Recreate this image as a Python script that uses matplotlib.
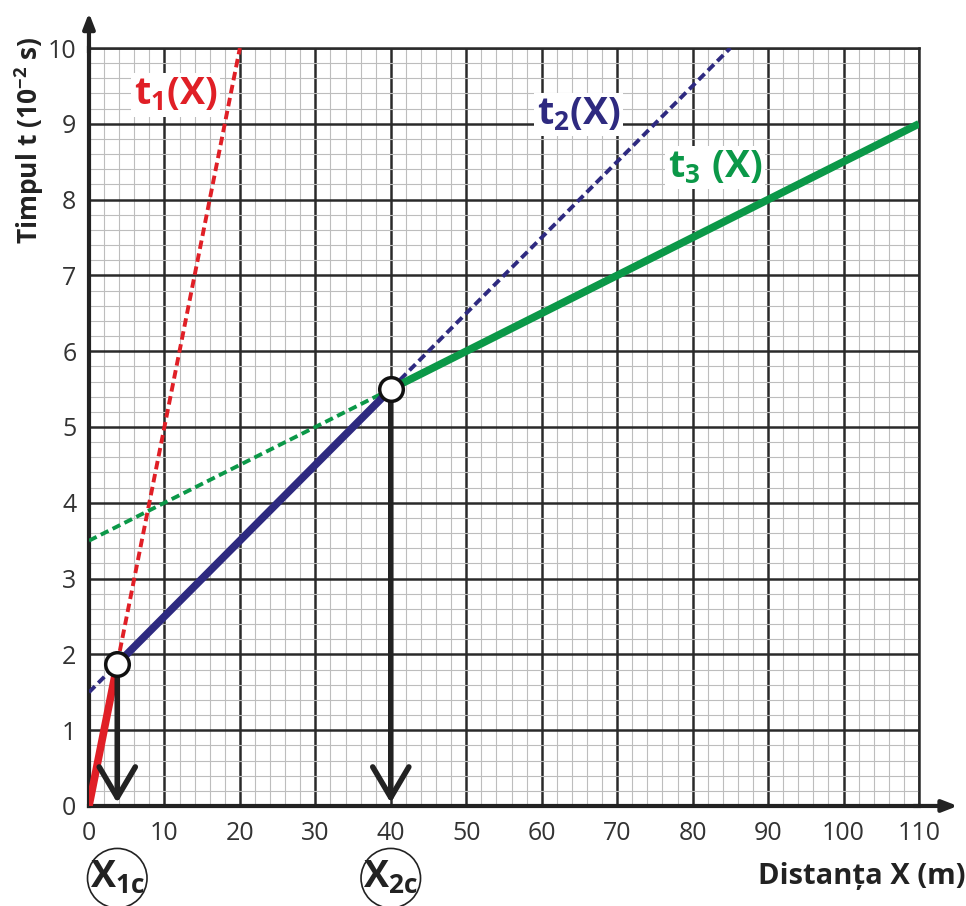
import matplotlib
matplotlib.use("Agg")
import matplotlib.pyplot as plt
from matplotlib.ticker import MultipleLocator

plt.rcParams['font.family'] = ['Open Sans', 'DejaVu Sans']
plt.rcParams['mathtext.fontset'] = 'custom'
plt.rcParams['mathtext.rm'] = 'Open Sans'
plt.rcParams['mathtext.bf'] = 'Open Sans:bold'
plt.rcParams['mathtext.it'] = 'Open Sans:italic'

# date
t1_plin_x = [0, 3.75]
t1_plin_y = [0, 1.875]
t1_punct_x = [3.75, 20]
t1_punct_y = [1.875, 10]

t2_punct1_x = [0, 3.75]
t2_punct1_y = [1.5, 1.875]
t2_plin_x = [3.75, 40]
t2_plin_y = [1.875, 5.5]
t2_punct2_x = [40, 85]
t2_punct2_y = [5.5, 10]

t3_punct_x = [0, 40]
t3_punct_y = [3.5, 5.5]
t3_plin_x = [40, 110]
t3_plin_y = [5.5, 9]

x_crit = [3.75, 40]
t_crit = [1.875, 5.5]
etichete_crit = [r'$\mathbf{X_{1c}}$', r'$\mathbf{X_{2c}}$']

x_ticks = list(range(0, 111, 10))
y_ticks = list(range(0, 11))

rosu = '#e01f26'
albastru = '#2e2a80'
verde = '#0b9848'
liniuta = (0, (2.2, 1.2))

fig = plt.figure(figsize=(9.66, 9.06), dpi=100)
ax = fig.add_axes([0.0921, 0.1104, 0.8592, 0.8366])

ax.set_xlim(0, 110)
ax.set_ylim(0, 10)
ax.xaxis.set_minor_locator(MultipleLocator(2))
ax.yaxis.set_minor_locator(MultipleLocator(0.2))
ax.set_xticks(x_ticks)
ax.set_yticks(y_ticks)
ax.grid(which='minor', color='#bdbdbd', lw=0.8)
ax.grid(which='major', color='#2a2a2a', lw=1.8)
ax.set_axisbelow(True)
ax.tick_params(which='both', length=0)
ax.tick_params(axis='x', pad=11, labelsize=18, colors='#333333')
ax.tick_params(axis='y', pad=9, labelsize=18, colors='#333333')

for s in ['top', 'right']:
    ax.spines[s].set_color('#2a2a2a')
    ax.spines[s].set_linewidth(1.8)
for s in ['left', 'bottom']:
    ax.spines[s].set_color('#222222')
    ax.spines[s].set_linewidth(3)

# sagetile axelor
ax.annotate('', xy=(0, 1.05), xytext=(0, 0.99), xycoords='axes fraction',
            arrowprops=dict(arrowstyle='-|>,head_length=0.9,head_width=0.35',
                            color='#222222', lw=3), annotation_clip=False)
ax.annotate('', xy=(1.05, 0), xytext=(0.99, 0), xycoords='axes fraction',
            arrowprops=dict(arrowstyle='-|>,head_length=0.9,head_width=0.35',
                            color='#222222', lw=3), annotation_clip=False)

# dreptele
ax.plot(t1_punct_x, t1_punct_y, color=rosu, lw=2.8, ls=liniuta, zorder=3)
ax.plot(t2_punct1_x, t2_punct1_y, color=albastru, lw=2.8, ls=liniuta, zorder=3)
ax.plot(t2_punct2_x, t2_punct2_y, color=albastru, lw=2.8, ls=liniuta, zorder=3)
ax.plot(t3_punct_x, t3_punct_y, color=verde, lw=2.8, ls=liniuta, zorder=3)
ax.plot(t1_plin_x, t1_plin_y, color=rosu, lw=5.5, solid_capstyle='butt', zorder=4)
ax.plot(t2_plin_x, t2_plin_y, color=albastru, lw=5.5, solid_capstyle='butt', zorder=4)
ax.plot(t3_plin_x, t3_plin_y, color=verde, lw=5.5, solid_capstyle='butt', zorder=4)

# sageti verticale
for xc, tc in zip(x_crit, t_crit):
    ax.annotate('', xy=(xc, 0.04), xytext=(xc, tc),
                arrowprops=dict(arrowstyle='->,head_length=1.1,head_width=0.65',
                                color='#222222', lw=4, mutation_scale=20,
                                shrinkA=0, shrinkB=0), zorder=5)
ax.plot(x_crit, t_crit, 'o', ms=17, mfc='white', mec='#111111', mew=2.5, zorder=6)

# etichete
box = dict(facecolor='white', edgecolor='none', pad=2)
ax.text(11.5, 9.38, r'$\mathbf{t_1(X)}$', color=rosu, fontsize=27,
        ha='center', va='center', bbox=box, zorder=4)
ax.text(64.9, 9.12, r'$\mathbf{t_2(X)}$', color=albastru, fontsize=27,
        ha='center', va='center', bbox=box, zorder=4)
ax.text(83.0, 8.42, r'$\mathbf{t_3\ (X)}$', color=verde, fontsize=27,
        ha='center', va='center', bbox=box, zorder=4)

for xc, et in zip(x_crit, etichete_crit):
    ax.annotate(et, xy=(xc, 0), xytext=(0, -52), textcoords='offset points',
                xycoords='data', ha='center', va='center', fontsize=27,
                color='#222222',
                bbox=dict(boxstyle='circle,pad=0.06', facecolor='white',
                          edgecolor='#222222', lw=1.2),
                annotation_clip=False)

fig.text(0.999, 0.033, 'Distanța X (m)', ha='right', va='center',
         fontsize=21, fontweight='bold', color='#222222')
fig.text(0.031, 0.845, r'Timpul t (10$^{\mathbf{-2}}$ s)', ha='center', va='center',
         rotation=90, fontsize=19, fontweight='bold', color='#222222')

fig.savefig('out.png', dpi=100)
